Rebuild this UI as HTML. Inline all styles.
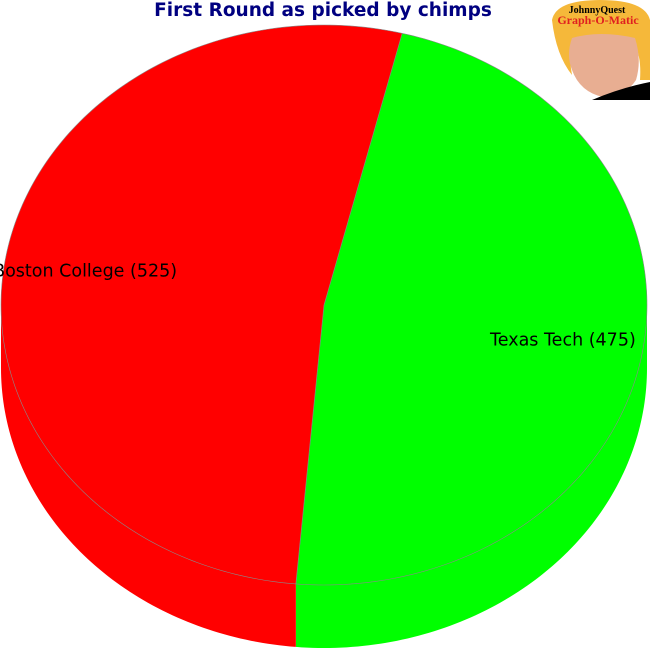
<!DOCTYPE html>
<html><head><meta charset="utf-8"><style>
body{margin:0;background:#fff;width:650px;height:650px;overflow:hidden}
</style></head><body>
<svg id="chart" width="650" height="650" xmlns="http://www.w3.org/2000/svg">
<text x="323" y="16" text-anchor="middle" font-family="DejaVu Sans, sans-serif" font-weight="bold" font-size="18.5" fill="#000080">First Round as picked by chimps</text>
<g>
<path d="M552,20 Q556,0 600,0 Q645,0 650,20 L650,80 L640,80 Q642,50 630,40 L575,40 Q568,55 572,75 Q556,55 552,20Z" fill="#f5b83a"/>
<path d="M572,38 Q600,30 635,38 Q642,60 636,80 Q625,97 603,97 Q580,92 572,70 Q566,55 572,38Z" fill="#e8ae92"/>
<path d="M592,100 Q620,88 650,82 L650,100Z" fill="#000"/>
<text x="597" y="13" text-anchor="middle" font-family="Liberation Serif, serif" font-weight="bold" font-size="10" fill="#000">JohnnyQuest</text>
<text x="598" y="24" text-anchor="middle" font-family="Liberation Serif, serif" font-weight="bold" font-size="12" fill="#e02020">Graph-O-Matic</text>
</g>
<g id="pie"></g>
</svg>
<script>
const categories=["Texas Tech","Boston College"];
const values=[475,525];
const colors=["#00ff00","#ff0000"];
const cx=324,cy=305,rx=323,ry=280,depth=63,startDeg=-76;
const g=document.getElementById('pie');
const ns='http://www.w3.org/2000/svg';
const total=values.reduce((a,b)=>a+b,0);
function pt(d,dy){const r=d*Math.PI/180;return [cx+rx*Math.cos(r),cy+(dy||0)+ry*Math.sin(r)];}
function arc(a,b,dy){let s='';const n=Math.max(2,Math.ceil(Math.abs(b-a)));for(let i=0;i<=n;i++){const p=pt(a+(b-a)*i/n,dy);s+=(i?'L':'')+p[0].toFixed(2)+','+p[1].toFixed(2);}return s;}
let a=startDeg;const slices=[];
values.forEach((v,i)=>{const b=a+v/total*360;slices.push([a,b]);a=b;});
slices.forEach(([s,e],i)=>{
  for(const k of [-360,0,360]){
    const lo=Math.max(s+k,0),hi=Math.min(e+k,180);
    if(hi>lo){
      const p=document.createElementNS(ns,'path');
      p.setAttribute('d','M'+arc(lo,hi,0)+'L'+arc(hi,lo,depth)+'Z');
      p.setAttribute('fill',colors[i]);
      
      
      g.appendChild(p);
    }
  }
});
slices.forEach(([s,e],i)=>{
  const p=document.createElementNS(ns,'path');
  p.setAttribute('d','M'+cx+','+cy+'L'+arc(s,e,0)+'Z');
  p.setAttribute('fill',colors[i]);
  p.setAttribute('stroke','#888');
  p.setAttribute('stroke-width','0.6');
  
  
  g.appendChild(p);
  const m=(s+e)/2,q=pt(m,0);
  const lx=cx+(q[0]-cx)*0.75, ly=cy+(q[1]-cy)*0.75;
  const t=document.createElementNS(ns,'text');
  t.setAttribute('x',lx);t.setAttribute('y',ly+6);
  t.setAttribute('text-anchor','middle');
  t.setAttribute('font-family','DejaVu Sans, sans-serif');
  t.setAttribute('font-size','17.5');
  t.textContent=categories[i]+' ('+values[i]+')';
  
  
  g.appendChild(t);
});
</script>
</body></html>
